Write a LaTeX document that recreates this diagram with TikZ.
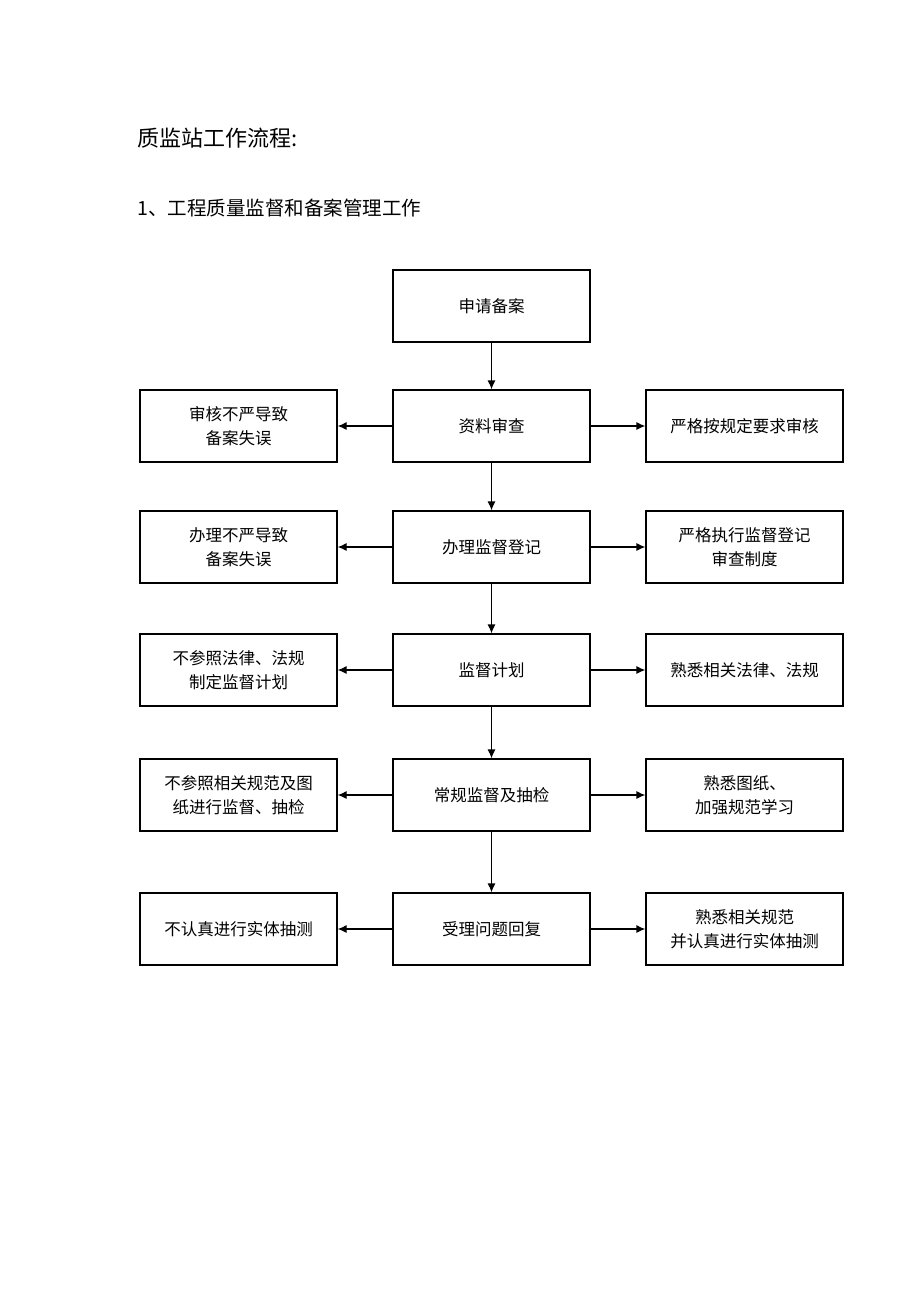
\documentclass[tikz,border=0pt]{standalone}
\usepackage{fontspec}
\setmainfont{Noto Sans CJK SC}
\usetikzlibrary{arrows.meta}
\tikzset{
  procbox/.style={draw, line width=1.2pt, minimum width=197pt, minimum height=72pt,
    align=center, inner sep=2pt, font=\fontsize{16.5}{24}\selectfont},
  flowarrow/.style={-{Latex[length=9pt,width=8pt]}, line width=1.2pt},
}
\begin{document}
\begin{tikzpicture}[x=1pt, y=-1pt, line join=miter]
					%%%%%%%%%%%%%%%%%%%%%%%%%%%%%%%%%
					\useasboundingbox (0,0) rectangle (920,1303);
					\coordinate (L) at (238.5,0);
					\coordinate (M) at (491.5,0);
					\coordinate (R) at (744.5,0);
					%%%%%%%%%%%%%%%%%%%%%%%%%%%%%%%%%
					\node[anchor=west, font=\fontsize{22}{26}\selectfont] (title) at (134,138) {质监站工作流程:};
					\node[anchor=west, font=\fontsize{19.5}{24}\selectfont] (subtitle) at (134,208) {1、工程质量监督和备案管理工作};
					%%%%%%%%%%%%%%%%%%%%%%%%%%%%%%%%%
					\node[procbox] (apply) at (491.5,306) {申请备案};
					\node[procbox] (check) at (491.5,426) {资料审查};
					\node[procbox] (regist) at (491.5,547) {办理监督登记};
					\node[procbox] (plan) at (491.5,670) {监督计划};
					\node[procbox] (routine) at (491.5,795) {常规监督及抽检};
					\node[procbox] (reply) at (491.5,929) {受理问题回复};
					%%%%%%%%%%%%%%%%%%%%%%%%%%%%%%%%%
					\node[procbox] (checkL) at (238.5,426) {审核不严导致\\备案失误};
					\node[procbox] (registL) at (238.5,547) {办理不严导致\\备案失误};
					\node[procbox] (planL) at (238.5,670) {不参照法律、法规\\制定监督计划};
					\node[procbox] (routineL) at (238.5,795) {不参照相关规范及图\\纸进行监督、抽检};
					\node[procbox] (replyL) at (238.5,929) {不认真进行实体抽测};
					%%%%%%%%%%%%%%%%%%%%%%%%%%%%%%%%%
					\node[procbox] (checkR) at (744.5,426) {严格按规定要求审核};
					\node[procbox] (registR) at (744.5,547) {严格执行监督登记\\审查制度};
					\node[procbox] (planR) at (744.5,670) {熟悉相关法律、法规};
					\node[procbox] (routineR) at (744.5,795) {熟悉图纸、\\加强规范学习};
					\node[procbox] (replyR) at (744.5,929) {熟悉相关规范\\并认真进行实体抽测};
					%%%%%%%%%%%%%%%%%%%%%%%%%%%%%%%%%
					\draw[flowarrow] (apply) -- (check);
					\draw[flowarrow] (check) -- (regist);
					\draw[flowarrow] (regist) -- (plan);
					\draw[flowarrow] (plan) -- (routine);
					\draw[flowarrow] (routine) -- (reply);
					\foreach \n in {check, regist, plan, routine, reply}{
						\draw[flowarrow] (\n) -- (\n L);
						\draw[flowarrow] (\n) -- (\n R);
					}
					%%%%%%%%%%%%%%%%%%%%%%%%%%%%%%%%%
\end{tikzpicture}
\end{document}
